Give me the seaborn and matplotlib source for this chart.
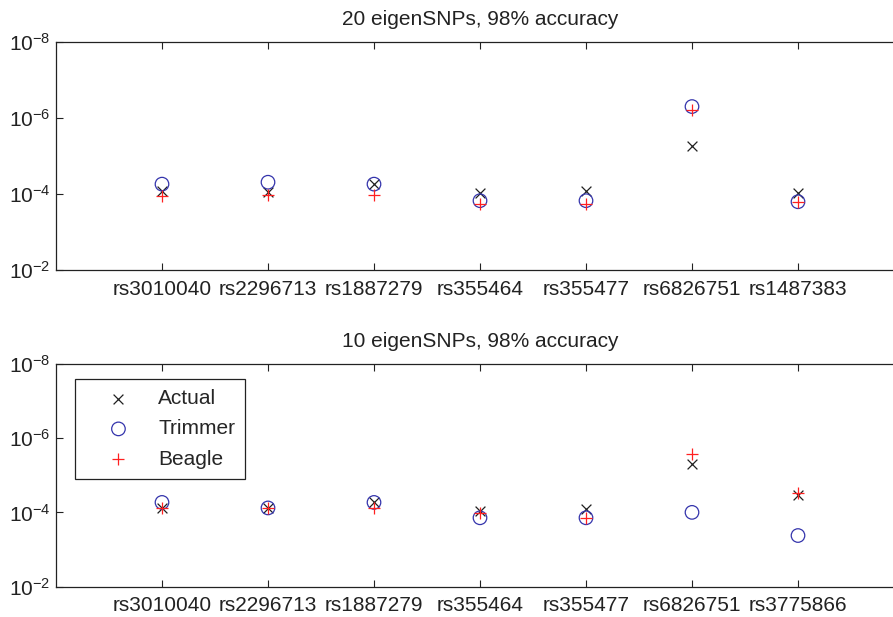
import matplotlib
matplotlib.use("Agg")
import matplotlib.pyplot as plt
import pandas as pd
import seaborn as sns

# SNP names on the x axis of each panel
snps_top = ['rs3010040', 'rs2296713', 'rs1887279', 'rs355464', 'rs355477', 'rs6826751', 'rs1487383']
snps_bottom = ['rs3010040', 'rs2296713', 'rs1887279', 'rs355464', 'rs355477', 'rs6826751', 'rs3775866']

# values (log y axis, reversed)
actual_top = [8.3e-5, 8.7e-5, 5.5e-5, 9.5e-5, 8.3e-5, 5.4e-6, 9.5e-5]
trimmer_top = [5.5e-5, 4.9e-5, 5.5e-5, 1.5e-4, 1.5e-4, 5.0e-7, 1.6e-4]
beagle_top = [1.1e-4, 1.07e-4, 1.07e-4, 1.8e-4, 1.8e-4, 6.2e-7, 1.6e-4]

actual_bottom = [7.6e-5, 7.6e-5, 5.4e-5, 9.3e-5, 7.9e-5, 5.1e-6, 3.5e-5]
trimmer_bottom = [5.4e-5, 7.6e-5, 5.4e-5, 1.4e-4, 1.4e-4, 1.0e-4, 4.2e-4]
beagle_bottom = [7.6e-5, 7.6e-5, 7.6e-5, 1.02e-4, 1.4e-4, 2.7e-6, 3.1e-5]

titles = ['20 eigenSNPs, 98% accuracy', '10 eigenSNPs, 98% accuracy']
yticks = [1e-8, 1e-6, 1e-4, 1e-2]

sns.set_style("ticks")
plt.rcParams['font.family'] = ['Liberation Sans', 'DejaVu Sans']
plt.rcParams['mathtext.default'] = 'regular'
plt.rcParams['xtick.direction'] = 'in'
plt.rcParams['ytick.direction'] = 'in'

fig = plt.figure(figsize=(8.93, 6.17), dpi=100)
W, H = 893.0, 617.0
ax_top = fig.add_axes([56 / W, (H - 270) / H, 848 / W, 228 / H])
ax_bot = fig.add_axes([56 / W, (H - 586.7) / H, 848 / W, 223 / H])

panels = [
    (ax_top, snps_top, actual_top, trimmer_top, beagle_top, titles[0]),
    (ax_bot, snps_bottom, actual_bottom, trimmer_bottom, beagle_bottom, titles[1]),
]

for ax, snps, act, trim, beag, title in panels:
    df = pd.DataFrame({'snp': snps, 'Actual': act, 'Trimmer': trim, 'Beagle': beag})
    sns.scatterplot(data=df, x='snp', y='Actual', ax=ax, marker='x', s=50,
                    color='#202020', linewidth=0.9, label='Actual')
    sns.scatterplot(data=df, x='snp', y='Trimmer', ax=ax, marker='o', s=95,
                    facecolors='none', edgecolor='#3434ac', linewidth=0.9, label='Trimmer')
    sns.scatterplot(data=df, x='snp', y='Beagle', ax=ax, marker='+', s=80,
                    color='#ff2020', linewidth=0.9, label='Beagle')
    ax.set_yscale('log')
    ax.set_ylim(1e-2, 1e-8)
    ax.set_yticks(yticks)
    ax.set_yticks([], minor=True)
    ax.set_xlim(-1, 7)
    ax.set_xlabel('')
    ax.set_ylabel('')
    ax.set_title(title, fontsize=15, pad=12, color='#222222')
    ax.tick_params(axis='both', labelsize=15, length=5, width=0.8, colors='#222222',
                   top=True, right=True)
    ax.tick_params(axis='x', pad=7)
    ax.tick_params(axis='y', pad=4)
    for sp in ax.spines.values():
        sp.set_linewidth(0.9)
        sp.set_color('#222222')

ax_top.get_legend().remove()
leg = ax_bot.legend(loc='upper left', bbox_to_anchor=(18.7 / 848, 1 - 15 / 223),
                    borderaxespad=0, fancybox=False, framealpha=1, edgecolor='#222222',
                    fontsize=15, handletextpad=0.3, labelspacing=0.54, borderpad=0.5,
                    handlelength=3.2)
leg.get_frame().set_linewidth(0.9)

fig.savefig('out.png', dpi=100)
